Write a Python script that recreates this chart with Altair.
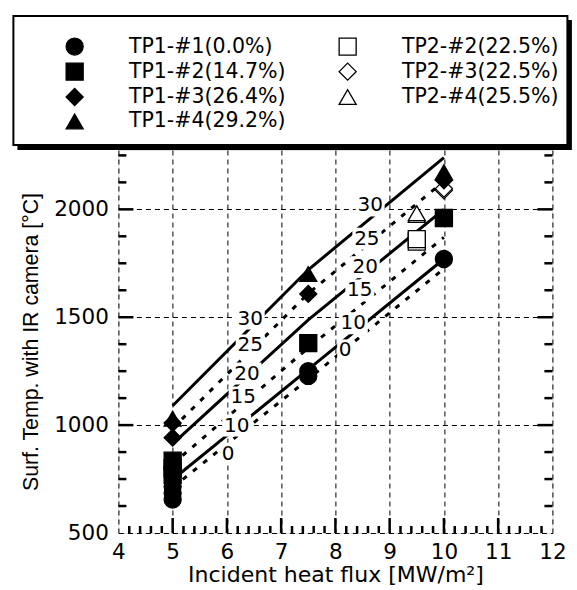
import altair as alt
import pandas as pd
import numpy as np

W, H = 434, 383
X_DOMAIN = [4, 12]
Y_DOMAIN = [500, 2275]

# ---------------- measured data ----------------
legend_order = ["TP1-#1(0.0%)", "TP1-#2(14.7%)", "TP1-#3(26.4%)", "TP1-#4(29.2%)",
                "TP2-#2(22.5%)", "TP2-#3(22.5%)", "TP2-#4(25.5%)"]
shape_range = ["circle", "square", "diamond", "triangle-up", "square", "diamond", "triangle-up"]
fill_range = ["black", "black", "black", "black", "white", "white", "white"]

tp1_1_x = [5, 5, 5, 7.5, 7.5, 10]
tp1_1_y = [715, 685, 655, 1250, 1228, 1770]
tp1_2_x = [5, 5, 5, 7.5, 10]
tp1_2_y = [835, 800, 770, 1380, 1960]
tp1_3_x = [5, 5, 7.5, 10]
tp1_3_y = [1010, 942, 1608, 2135]
tp1_4_x = [5, 7.5, 10]
tp1_4_y = [1030, 1700, 2172]
tp2_2_x = [9.5, 9.5]
tp2_2_y = [1850, 1862]
tp2_3_x = [10, 10]
tp2_3_y = [2088, 2096]
tp2_4_x = [9.5, 9.5]
tp2_4_y = [1974, 1982]

# model lines (porosity %) at heat flux 5, 7.5, 10
line_x = [5, 7.5, 10]
line_p0 = [711, 1213, 1725]
line_p10 = [748, 1258, 1770]
line_p15 = [820, 1358, 1870]
line_p20 = [913, 1488, 2000]
line_p25 = [985, 1610, 2130]
line_p30 = [1090, 1720, 2240]

# inline line labels
lab_text = ["30", "25", "20", "15", "10", "0", "30", "25", "20", "15", "10", "0"]
lab_x = [6.43, 6.43, 6.37, 6.30, 6.18, 6.02, 8.64, 8.58, 8.55, 8.45, 8.33, 8.18]
lab_y = [1494, 1369, 1239, 1128, 998, 868, 2018, 1864, 1732, 1624, 1472, 1346]

# axis ticks
x_major = [5, 6, 7, 8, 9, 10, 11]
x_minor = [round(v, 1) for v in np.arange(4.2, 12.0, 0.2) if abs(v - round(v)) > 0.05]
y_major = [1000, 1500, 2000]
y_minor = [625, 750, 875, 1125, 1250, 1375, 1625, 1750, 1875, 2125, 2250]

# ---------------- tables ----------------
rows = []
for name, xs, ys in [("TP2-#2(22.5%)", tp2_2_x, tp2_2_y), ("TP2-#3(22.5%)", tp2_3_x, tp2_3_y),
                     ("TP2-#4(25.5%)", tp2_4_x, tp2_4_y),
                     ("TP1-#1(0.0%)", tp1_1_x, tp1_1_y), ("TP1-#2(14.7%)", tp1_2_x, tp1_2_y),
                     ("TP1-#3(26.4%)", tp1_3_x, tp1_3_y), ("TP1-#4(29.2%)", tp1_4_x, tp1_4_y)]:
    for a, b in zip(xs, ys):
        rows.append({"x": a, "y": b, "series": name})
pts = pd.DataFrame(rows)
pts["order"] = range(len(pts))

lrows = []
for p, vals, sty in [(30, line_p30, "solid"), (25, line_p25, "dot"), (20, line_p20, "solid"),
                     (15, line_p15, "dot"), (10, line_p10, "solid"), (0, line_p0, "dot")]:
    for a, b in zip(line_x, vals):
        lrows.append({"x": a, "y": b, "p": p, "style": sty})
lines = pd.DataFrame(lrows)

labs = pd.DataFrame({"x": lab_x, "y": lab_y, "t": lab_text})
px_per_x = W / (X_DOMAIN[1] - X_DOMAIN[0])
px_per_y = H / (Y_DOMAIN[1] - Y_DOMAIN[0])
labs["hw"] = [(8 if len(t) == 1 else 14.5) / px_per_x for t in lab_text]
labs["hh"] = 11 / px_per_y
labs["x1"] = labs["x"] - labs["hw"]
labs["x2"] = labs["x"] + labs["hw"]
labs["y1"] = labs["y"] - labs["hh"]
labs["y2"] = labs["y"] + labs["hh"]

# ---------------- encodings ----------------
xscale = alt.Scale(domain=X_DOMAIN, nice=False, zero=False)
yscale = alt.Scale(domain=Y_DOMAIN, nice=False, zero=False)
xaxis = alt.Axis(values=list(range(4, 13)), title="Incident heat flux [MW/m²]", format="d",
                 grid=True, gridDash=[5, 4], gridColor="black", gridWidth=1, gridOpacity=1,
                 ticks=False, domain=False, labelFlush=False,
                 labelFont="DejaVu Sans", labelFontSize=21.5, labelColor="black", labelPadding=8,
                 titleFont="DejaVu Sans", titleFontSize=22, titleFontWeight="normal",
                 titleColor="black", titlePadding=2)
yaxis = alt.Axis(values=[500, 1000, 1500, 2000], title="Surf. Temp. with IR camera [°C]", format="d",
                 grid=True, gridDash=[5, 4], gridColor="black", gridWidth=1, gridOpacity=1,
                 ticks=False, domain=False,
                 labelFont="DejaVu Sans", labelFontSize=21.5, labelColor="black", labelPadding=10,
                 titleFont="Liberation Sans", titleFontSize=21.3, titleFontWeight="normal",
                 titleColor="black", titlePadding=12)

X = lambda f: alt.X(f, type="quantitative", scale=xscale, axis=xaxis)
Y = lambda f: alt.Y(f, type="quantitative", scale=yscale, axis=yaxis)

legend = alt.Legend(title=None, orient="none", legendX=-54, legendY=-114, direction="vertical",
                    columns=2, columnPadding=50, rowPadding=2.4, padding=0,
                    labelFont="DejaVu Sans", labelFontSize=20.5, labelColor="black", labelLimit=400,
                    labelOffset=44, symbolSize=290, symbolStrokeColor="black", symbolStrokeWidth=1.3)

# ---------------- layers ----------------
solid = alt.Chart(lines).transform_filter(alt.datum.style == "solid").mark_line(
    color="black", strokeWidth=3).encode(x=X("x"), y=Y("y"), detail="p:N")
dotted = alt.Chart(lines).transform_filter(alt.datum.style == "dot").mark_line(
    color="black", strokeWidth=3, strokeDash=[5, 8]).encode(x=X("x"), y=Y("y"), detail="p:N")

masks = alt.Chart(labs).mark_rect(color="white").encode(
    x=X("x1"), x2="x2", y=Y("y1"), y2="y2")
texts = alt.Chart(labs).mark_text(font="DejaVu Sans", fontSize=20, color="black").encode(
    x=X("x"), y=Y("y"), text="t:N")

points = alt.Chart(pts).mark_point(filled=True, size=290, strokeWidth=1.3, opacity=1).encode(
    x=X("x"), y=Y("y"),
    shape=alt.Shape("series:N", scale=alt.Scale(domain=legend_order, range=shape_range), legend=legend),
    fill=alt.Fill("series:N", scale=alt.Scale(domain=legend_order, range=fill_range), legend=legend),
    stroke=alt.Stroke("series:N", scale=alt.Scale(domain=legend_order, range=["black"] * 7), legend=legend),
    order="order:Q")

ticks = []
xt_maj = pd.DataFrame({"v": x_major})
xt_min = pd.DataFrame({"v": x_minor})
yt_maj = pd.DataFrame({"v": y_major})
yt_min = pd.DataFrame({"v": y_minor})
for df, L in [(xt_maj, 15), (xt_min, 7)]:
    ticks.append(alt.Chart(df).mark_rule(color="black", strokeWidth=2.5).encode(
        x=X("v"), y=alt.value(H), y2=alt.value(H - L)))
for df, L in [(yt_maj, 15), (yt_min, 8)]:
    ticks.append(alt.Chart(df).mark_rule(color="black", strokeWidth=2.5).encode(
        y=Y("v"), x=alt.value(0), x2=alt.value(L)))
    ticks.append(alt.Chart(df).mark_rule(color="black", strokeWidth=2.5).encode(
        y=Y("v"), x=alt.value(W), x2=alt.value(W - L)))

one = pd.DataFrame({"k": [0]})
shadow = alt.Chart(one).mark_rect(color="black").encode(
    x=alt.value(-101), x2=alt.value(453.5), y=alt.value(-130), y2=alt.value(0))
box = alt.Chart(one).mark_rect(fill="white", stroke="black", strokeWidth=2).encode(
    x=alt.value(-105), x2=alt.value(449), y=alt.value(-134), y2=alt.value(-5))

chart = alt.layer(*ticks, solid, dotted, masks, texts, points, shadow, box).properties(
    width=W, height=H,
    padding={"left": 118.4, "top": 150, "right": 577 - 118.4 - W, "bottom": 590 - 150 - H},
    autosize=alt.AutoSizeParams(type="none"),
).configure_view(stroke="black", strokeWidth=3).configure(background="white")

chart.save("out.html", embed_options={"renderer": "svg", "actions": False})
